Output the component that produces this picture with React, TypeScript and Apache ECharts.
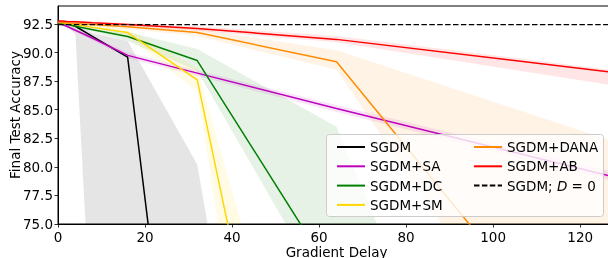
import React, { useEffect, useRef } from 'react';
import * as echarts from 'echarts';

const delays = [0, 1, 2, 4, 8, 16, 32, 64, 128];

const sgdm = [92.65, 92.6, 92.55, 92.3, 91.4, 89.6, 40.0, 10.0, 10.0];
const sgdmUpper = [92.75, 92.7, 92.65, 92.4, 91.7, 91.0, 80.2, 10.0, 10.0];
const sgdmLower = [92.5, 92.45, 92.35, 91.6, 63.0, 40.0, 10.0, 10.0, 10.0];

const sgdmSA = [92.6, 92.45, 92.3, 91.95, 91.25, 89.75, 88.2, 85.1, 79.1];
const sgdmSAUpper = [92.7, 92.6, 92.45, 92.1, 91.45, 90.0, 88.45, 85.4, 79.5];
const sgdmSALower = [92.5, 92.3, 92.15, 91.8, 91.05, 89.5, 87.95, 84.8, 78.7];

const sgdmDC = [92.6, 92.55, 92.5, 92.3, 92.0, 91.4, 89.3, 70.0, 10.0];
const sgdmDCUpper = [92.7, 92.65, 92.6, 92.45, 92.2, 91.8, 90.3, 83.5, 25.0];
const sgdmDCLower = [92.5, 92.45, 92.4, 92.15, 91.8, 91.0, 88.4, 67.3, 10.0];

const sgdmSM = [92.65, 92.6, 92.55, 92.45, 92.2, 91.75, 87.6, 30.0, 10.0];
const sgdmSMUpper = [92.75, 92.7, 92.65, 92.6, 92.4, 92.1, 88.6, 45.6, 10.0];
const sgdmSMLower = [92.55, 92.5, 92.45, 92.3, 92.0, 91.4, 86.6, 10.0, 10.0];

const sgdmDANA = [92.65, 92.62, 92.6, 92.55, 92.45, 92.25, 91.75, 89.2, 59.4];
const sgdmDANAUpper = [92.75, 92.72, 92.7, 92.65, 92.6, 92.45, 92.05, 90.2, 82.2];
const sgdmDANALower = [92.55, 92.52, 92.5, 92.45, 92.3, 92.05, 91.45, 88.5, 52.8];

const sgdmAB = [92.75, 92.75, 92.72, 92.7, 92.6, 92.45, 92.1, 91.15, 88.25];
const sgdmABUpper = [92.85, 92.85, 92.82, 92.8, 92.72, 92.6, 92.3, 91.45, 88.45];
const sgdmABLower = [92.65, 92.65, 92.62, 92.6, 92.48, 92.3, 91.9, 90.9, 87.1];

const baselineNoDelay = 92.44;

const xTicks = [0, 20, 40, 60, 80, 100, 120];
const yTicks = [75, 77.5, 80, 82.5, 85, 87.5, 90, 92.5];

const FONT = 'DejaVu Sans';

type Method = { name: string; color: string; band: string; mean: number[]; upper: number[]; lower: number[] };

const methods: Method[] = [
  { name: 'SGDM', color: '#000000', band: 'rgba(0,0,0,0.1)', mean: sgdm, upper: sgdmUpper, lower: sgdmLower },
  { name: 'SGDM+SA', color: '#bf00bf', band: 'rgba(191,0,191,0.1)', mean: sgdmSA, upper: sgdmSAUpper, lower: sgdmSALower },
  { name: 'SGDM+DC', color: '#008000', band: 'rgba(0,128,0,0.1)', mean: sgdmDC, upper: sgdmDCUpper, lower: sgdmDCLower },
  { name: 'SGDM+SM', color: '#ffd700', band: 'rgba(255,215,0,0.1)', mean: sgdmSM, upper: sgdmSMUpper, lower: sgdmSMLower },
  { name: 'SGDM+DANA', color: '#ff8c00', band: 'rgba(255,140,0,0.1)', mean: sgdmDANA, upper: sgdmDANAUpper, lower: sgdmDANALower },
  { name: 'SGDM+AB', color: '#ff0000', band: 'rgba(255,0,0,0.1)', mean: sgdmAB, upper: sgdmABUpper, lower: sgdmABLower },
];

const BASE_NAME = 'SGDM; D = 0';

export default function App() {
  const ref = useRef<HTMLDivElement>(null);
  useEffect(() => {
    if (!ref.current) return;
    const chart = echarts.init(ref.current, null, { renderer: 'svg' });
    const series: any[] = [];
    methods.forEach((m, k) => {
      series.push({
        type: 'custom',
        name: 'band_' + k,
        silent: true,
        z: 1,
        data: delays.map((d, i) => [d, m.lower[i], m.upper[i]]),
        encode: { x: 0, y: [1, 2] },
        renderItem: (params: any, api: any) => {
          if (params.dataIndex !== 0) return null;
          const pts: number[][] = [];
          for (let i = 0; i < delays.length; i++) pts.push(api.coord([delays[i], m.upper[i]]));
          for (let i = delays.length - 1; i >= 0; i--) pts.push(api.coord([delays[i], m.lower[i]]));
          const cs = params.coordSys;
          return {
            type: 'polygon',
            shape: { points: pts },
            style: { fill: m.band, stroke: 'none' },
            clipPath: { type: 'rect', shape: { x: cs.x, y: cs.y, width: cs.width, height: cs.height } },
          };
        },
      });
    });
    methods.forEach((m) => {
      series.push({
        type: 'line',
        name: m.name,
        color: m.color,
        data: delays.map((d, i) => [d, m.mean[i]]),
        symbol: 'none',
        lineStyle: { color: m.color, width: 1.5 },
        z: 2,
      });
    });
    series.push({
      type: 'line',
      name: BASE_NAME,
      color: '#000000',
      data: [[0, baselineNoDelay], [128, baselineNoDelay]],
      symbol: 'none',
      lineStyle: { color: '#000000', width: 1.3, type: [5.5, 2.4] },
      z: 2,
    });

    const legendCommon = {
      orient: 'vertical',
      itemWidth: 28,
      itemHeight: 14,
      itemGap: 5.3,
      selectedMode: false,
      itemStyle: { opacity: 0 },
      textStyle: {
        fontFamily: FONT,
        fontSize: 13.5,
        color: '#000',
        lineHeight: 14,
        rich: {
          n: { fontFamily: FONT, fontSize: 13.5, color: '#000' },
          i: { fontFamily: FONT, fontSize: 13.5, color: '#000', fontStyle: 'italic' },
        },
      },
      formatter: (name: string) => (name === BASE_NAME ? '{n|SGDM; }{i|D}{n| = 0}' : name),
    };

    chart.setOption({
      animation: false,
      textStyle: { fontFamily: FONT },
      grid: {
        left: 58,
        top: 6,
        right: -7,
        bottom: 34,
        containLabel: false,
        outerBoundsMode: 'none',
        show: true,
        borderColor: '#000',
        borderWidth: 1,
        backgroundColor: 'transparent',
      },
      xAxis: {
        type: 'value',
        min: 0,
        max: 128,
        name: 'Gradient Delay',
        nameLocation: 'middle',
        nameGap: 22,
        nameMoveOverlap: false,
        nameTextStyle: { fontFamily: FONT, fontSize: 13.5, color: '#000', lineHeight: 12 },
        axisLine: { show: true, lineStyle: { color: '#000', width: 1 } },
        axisTick: { show: true, length: 3.5, lineStyle: { color: '#000', width: 0.8 }, customValues: xTicks },
        axisLabel: { fontFamily: FONT, fontSize: 13.5, color: '#000', margin: 6.5, lineHeight: 12, customValues: xTicks },
        splitLine: { show: false },
      },
      yAxis: {
        type: 'value',
        min: 75,
        max: 94.07,
        name: 'Final Test Accuracy',
        nameLocation: 'middle',
        nameGap: 36,
        nameMoveOverlap: false,
        nameTextStyle: { fontFamily: FONT, fontSize: 13.5, color: '#000' },
        axisLine: { show: true, lineStyle: { color: '#000', width: 1 } },
        axisTick: { show: true, length: 3.5, lineStyle: { color: '#000', width: 0.8 }, customValues: yTicks },
        axisLabel: {
          fontFamily: FONT,
          fontSize: 13.5,
          color: '#000',
          margin: 5,
          customValues: yTicks,
          formatter: (v: number) => v.toFixed(1),
        },
        splitLine: { show: false },
      },
      legend: [
        { ...legendCommon, left: 331, top: 135, data: methods.slice(0, 4).map((m) => m.name) },
        { ...legendCommon, left: 468, top: 135, data: [methods[4].name, methods[5].name, BASE_NAME] },
      ],
      graphic: {
        elements: [
          {
            type: 'rect',
            z: 3,
            shape: { x: 326.5, y: 134.5, width: 277, height: 82, r: 3 },
            style: { fill: 'rgba(255,255,255,0.8)', stroke: '#cccccc', lineWidth: 1 },
          },
        ],
      },
      series,
    });
    return () => chart.dispose();
  }, []);
  return <div ref={ref} style={{ position: 'fixed', left: 0, top: 0, width: 608, height: 258 }} />;
}
